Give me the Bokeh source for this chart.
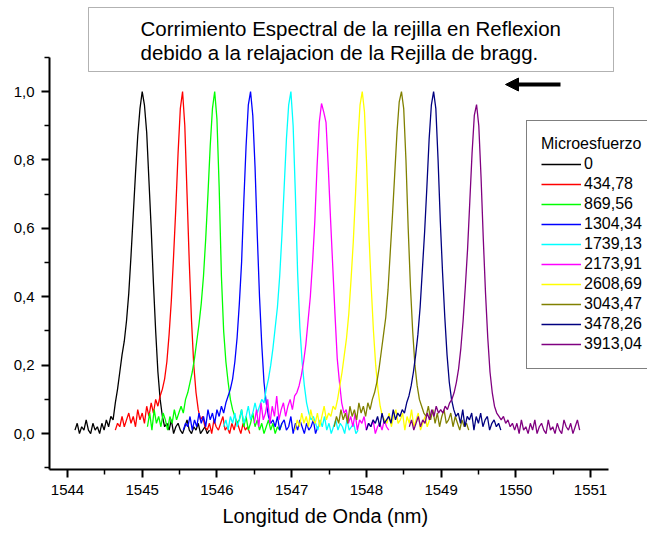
from bokeh.plotting import figure
from bokeh.models import (Range1d, FixedTicker, CustomJSTickFormatter, Legend, LegendItem,
                          BoxAnnotation, Label, Arrow, NormalHead, Title)
from bokeh.embed import file_html
from bokeh.resources import INLINE

# ---------------- data ----------------
labels = ["0", "434,78", "869,56", "1304,34", "1739,13", "2173,91",
          "2608,69", "3043,47", "3478,26", "3913,04"]
colors = ["#000000", "#FF0000", "#00FF00", "#0000FF", "#00FFFF", "#FF00FF",
          "#FFFF00", "#808000", "#000080", "#800080"]
# peak wavelength of each spectrum (nm)
centers = [1545.00, 1545.54, 1545.97, 1546.45, 1546.99, 1547.40,
           1547.945, 1548.47, 1548.90, 1549.475]
# sampling offsets around each peak (nm)
offsets = [-0.90, -0.87, -0.84, -0.81, -0.78, -0.75, -0.72, -0.69, -0.66, -0.63,
           -0.60, -0.57, -0.54, -0.51, -0.48, -0.45, -0.42, -0.39, -0.36, -0.33,
           -0.30, -0.27, -0.24, -0.21, -0.18, -0.15, -0.12, -0.09, -0.06, -0.03,
           0.00, 0.03, 0.06, 0.09, 0.12, 0.15, 0.18, 0.21, 0.24, 0.27,
           0.30, 0.33, 0.36, 0.39, 0.42, 0.45, 0.48, 0.51, 0.54, 0.57,
           0.60, 0.63, 0.66, 0.69, 0.72, 0.75, 0.78, 0.81, 0.84, 0.87,
           0.90, 0.93, 0.96, 0.99, 1.02, 1.05, 1.08, 1.11, 1.14, 1.17,
           1.20, 1.23, 1.26, 1.29, 1.32, 1.35, 1.38]

s0 = [0.01, 0.03, 0.00, 0.02, 0.01, 0.04, 0.01, 0.00, 0.03, 0.01, 0.02, 0.00, 0.03, 0.01, 0.04,
      0.02, 0.05, 0.04, 0.09, 0.13, 0.18, 0.23, 0.27, 0.33, 0.41, 0.52, 0.64, 0.76, 0.87, 0.95,
      1.00, 0.96, 0.88, 0.74, 0.60, 0.44, 0.30, 0.18, 0.10, 0.05, 0.02,
      0.03, 0.01, 0.04, 0.00, 0.02, 0.03, 0.01, 0.00, 0.02, 0.04, 0.01, 0.00, 0.02, 0.01, 0.03,
      0.00, 0.01, 0.02, 0.00, 0.01]
s1 = [0.01, 0.03, 0.02, 0.05, 0.02, 0.04, 0.06, 0.03, 0.05, 0.02, 0.07, 0.04, 0.06, 0.03, 0.08,
      0.05, 0.09, 0.06, 0.10, 0.08, 0.11, 0.13, 0.16, 0.21, 0.29, 0.39, 0.52, 0.66, 0.82, 0.95,
      1.00, 0.90, 0.70, 0.50, 0.33, 0.20, 0.12, 0.07, 0.04, 0.05, 0.02,
      0.01, 0.03, 0.00, 0.04, 0.02, 0.01, 0.03, 0.05, 0.01, 0.02, 0.00, 0.03, 0.01, 0.04, 0.02,
      0.00, 0.03, 0.01, 0.02, 0.00]
s2 = [0.02, 0.06, 0.01, 0.07, 0.03, 0.05, 0.02, 0.06, 0.04, 0.01, 0.05, 0.03, 0.07, 0.04, 0.06,
      0.08, 0.06, 0.10, 0.12, 0.15, 0.18, 0.22, 0.27, 0.32, 0.38, 0.46, 0.57, 0.70, 0.84, 0.95,
      1.00, 0.92, 0.72, 0.46, 0.30, 0.21, 0.15, 0.10, 0.07, 0.05, 0.03,
      0.04, 0.07, 0.02, 0.05, 0.01, 0.03, 0.06, 0.02, 0.04, 0.01, 0.03, 0.00, 0.02, 0.04, 0.01,
      0.03, 0.00, 0.02, 0.01, 0.03]
s3 = [0.01, 0.03, 0.02, 0.05, 0.01, 0.04, 0.02, 0.06, 0.03, 0.05, 0.02, 0.07, 0.04, 0.06, 0.03,
      0.07, 0.05, 0.08, 0.06, 0.09, 0.11, 0.13, 0.16, 0.21, 0.28, 0.38, 0.50, 0.68, 0.84, 0.96,
      1.00, 0.93, 0.78, 0.58, 0.40, 0.26, 0.15, 0.09, 0.05, 0.03, 0.04,
      0.02, 0.05, 0.01, 0.03, 0.04, 0.01, 0.02, 0.05, 0.00, 0.03, 0.01, 0.04, 0.02, 0.00, 0.03,
      0.01, 0.02, 0.04, 0.00, 0.02]
s4 = [0.02, 0.04, 0.01, 0.05, 0.03, 0.06, 0.02, 0.04, 0.07, 0.03, 0.05, 0.08, 0.04, 0.06, 0.09,
      0.06, 0.08, 0.10, 0.09, 0.13, 0.16, 0.20, 0.25, 0.31, 0.37, 0.46, 0.58, 0.72, 0.86, 0.96,
      1.00, 0.90, 0.70, 0.47, 0.31, 0.21, 0.14, 0.09, 0.06, 0.04, 0.05,
      0.03, 0.01, 0.04, 0.02, 0.05, 0.01, 0.03, 0.00, 0.02, 0.04, 0.01, 0.03, 0.02, 0.00, 0.04,
      0.01, 0.02, 0.03, 0.00, 0.01]
s5 = [0.03, 0.07, 0.02, 0.09, 0.04, 0.06, 0.10, 0.03, 0.08, 0.05, 0.11, 0.04, 0.07, 0.09, 0.05,
      0.08, 0.10, 0.07, 0.11, 0.12, 0.14, 0.17, 0.21, 0.26, 0.33, 0.40, 0.50, 0.62, 0.78, 0.91,
      0.965, 0.94, 0.91, 0.78, 0.63, 0.49, 0.35, 0.22, 0.15, 0.09, 0.06,
      0.07, 0.03, 0.05, 0.02, 0.06, 0.01, 0.04, 0.03, 0.05, 0.01, 0.03, 0.02, 0.04, 0.00, 0.02,
      0.03, 0.01, 0.04, 0.02, 0.01]
s6 = [0.01, 0.04, 0.02, 0.06, 0.03, 0.05, 0.02, 0.07, 0.04, 0.03, 0.06, 0.02, 0.05, 0.08, 0.04,
      0.06, 0.05, 0.08, 0.07, 0.10, 0.14, 0.18, 0.23, 0.28, 0.35, 0.45, 0.56, 0.70, 0.85, 0.96,
      1.00, 0.94, 0.78, 0.58, 0.43, 0.30, 0.20, 0.13, 0.08, 0.05, 0.04,
      0.03, 0.06, 0.02, 0.05, 0.07, 0.03, 0.04, 0.06, 0.01, 0.05, 0.03, 0.07, 0.02, 0.04, 0.06,
      0.01, 0.03, 0.05, 0.02, 0.04]
s7 = [0.02, 0.05, 0.03, 0.07, 0.04, 0.06, 0.03, 0.08, 0.05, 0.07, 0.04, 0.09, 0.06, 0.08, 0.05,
      0.09, 0.07, 0.10, 0.12, 0.15, 0.19, 0.24, 0.29, 0.34, 0.42, 0.53, 0.64, 0.76, 0.88, 0.97,
      1.00, 0.95, 0.80, 0.60, 0.43, 0.30, 0.20, 0.14, 0.10, 0.08, 0.06,
      0.05, 0.08, 0.04, 0.07, 0.03, 0.06, 0.02, 0.05, 0.07, 0.03, 0.04, 0.06, 0.02, 0.05, 0.03,
      0.01, 0.04, 0.02, 0.03, 0.01]
s8 = [0.01, 0.03, 0.02, 0.04, 0.03, 0.05, 0.02, 0.06, 0.03, 0.04, 0.05, 0.03, 0.07, 0.04, 0.06,
      0.05, 0.07, 0.06, 0.09, 0.11, 0.14, 0.18, 0.23, 0.29, 0.37, 0.48, 0.59, 0.72, 0.86, 0.96,
      1.00, 0.95, 0.80, 0.62, 0.47, 0.34, 0.23, 0.15, 0.10, 0.07, 0.05,
      0.06, 0.03, 0.07, 0.02, 0.05, 0.04, 0.06, 0.01, 0.05, 0.03, 0.06, 0.02, 0.04, 0.05, 0.01,
      0.03, 0.04, 0.02, 0.03, 0.01]
s9 = [0.02, 0.04, 0.01, 0.03, 0.05, 0.02, 0.04, 0.03, 0.06, 0.04, 0.07, 0.05, 0.08, 0.06, 0.07,
      0.06, 0.08, 0.07, 0.09, 0.10, 0.12, 0.15, 0.19, 0.25, 0.33, 0.43, 0.54, 0.68, 0.82, 0.93,
      0.962, 0.90, 0.75, 0.57, 0.41, 0.28, 0.18, 0.12, 0.08, 0.06, 0.05,
      0.04, 0.05, 0.03, 0.04, 0.02, 0.03, 0.01, 0.03, 0.00, 0.04, 0.01, 0.02, 0.00, 0.03, 0.01,
      0.04, 0.00, 0.02, 0.03, 0.01, 0.00, 0.04, 0.01, 0.02, 0.00, 0.03, 0.01, 0.00, 0.04, 0.02,
      0.01, 0.03, 0.00, 0.02, 0.04, 0.01]
series = [s0, s1, s2, s3, s4, s5, s6, s7, s8, s9]

x_ticks = [1544, 1545, 1546, 1547, 1548, 1549, 1550, 1551]
x_minor = [1544.5, 1545.5, 1546.5, 1547.5, 1548.5, 1549.5, 1550.5]
y_ticks = [0.0, 0.2, 0.4, 0.6, 0.8, 1.0]
y_minor = [-0.1, 0.1, 0.3, 0.5, 0.7, 0.9, 1.1]
x_axis_span = (1543.759, 1551.241)
y_axis_span = (-0.105, 1.1)

title_lines = ["Corrimiento Espectral de la rejilla en Reflexion",
               "debido a la relajacion de la Rejilla de bragg."]
x_title = "Longitud de Onda (nm)"
legend_title = "Microesfuerzo"
FONT = "Liberation Sans"

# ---------------- figure ----------------
# frame covers the whole canvas except the left/bottom axis space,
# axis lines are limited with "bounds" (Origin-like open frame)
p = figure(width=647, height=537, output_backend="svg", toolbar_location=None,
           x_range=Range1d(1543.759, 1551.763), y_range=Range1d(-0.105, 1.2661),
           min_border_left=49, min_border_right=0, min_border_top=0, min_border_bottom=68)
p.outline_line_color = None
p.grid.visible = False
p.background_fill_color = "white"
p.border_fill_color = "white"

renderers = []
for yv, c, cen in zip(series, colors, centers):
    xs = [cen + o for o in offsets[:len(yv)]]
    r = p.line(xs, yv, line_color=c, line_width=1.3)
    renderers.append(r)

for ax in (p.xaxis[0], p.yaxis[0]):
    ax.axis_line_width = 2
    ax.axis_line_color = "black"
    ax.major_tick_line_width = 2
    ax.minor_tick_line_width = 1.5
    ax.major_tick_line_color = "black"
    ax.minor_tick_line_color = "black"
    ax.major_tick_out = 8
    ax.major_tick_in = 0
    ax.minor_tick_out = 5
    ax.minor_tick_in = 0
    ax.major_label_text_font = FONT
    ax.major_label_text_font_size = "15px"
    ax.major_label_text_color = "black"
    ax.major_label_standoff = 7

p.xaxis.bounds = x_axis_span
p.yaxis.bounds = y_axis_span
p.xaxis.ticker = FixedTicker(ticks=x_ticks, minor_ticks=x_minor)
p.yaxis.ticker = FixedTicker(ticks=y_ticks, minor_ticks=y_minor)
p.xaxis.formatter = CustomJSTickFormatter(code="return tick.toFixed(0);")
p.yaxis.formatter = CustomJSTickFormatter(code="return tick.toFixed(1).replace('.', ',');")

# x axis title, placed under the (bounded) axis
p.add_layout(Title(text=x_title, align="left", offset=173, text_font=FONT,
                   text_font_size="20px", text_font_style="normal", text_color="black",
                   standoff=11), "below")

# legend
items = [LegendItem(label=lab, renderers=[r]) for lab, r in zip(labels, renderers)]
legend = Legend(items=items, location=(477, 100), title=legend_title,
                title_text_font=FONT, title_text_font_size="16px", title_text_font_style="normal",
                title_text_color="black", title_standoff=1,
                label_text_font=FONT, label_text_font_size="16px", label_text_color="black",
                glyph_width=40, glyph_height=20, label_height=20, spacing=0,
                label_standoff=3, padding=14, margin=0,
                border_line_color="black", border_line_width=1,
                background_fill_color="white", background_fill_alpha=1)
p.add_layout(legend)

# title box (screen units: from frame left / frame bottom)
box = BoxAnnotation(left=39, right=564, top=462, bottom=398,
                    left_units="screen", right_units="screen",
                    top_units="screen", bottom_units="screen",
                    fill_color="white", fill_alpha=1, line_color="black", line_width=1)
p.add_layout(box)
for i, t in enumerate(title_lines):
    p.add_layout(Label(x=91, y=441 - 24 * i, x_units="screen", y_units="screen", text=t,
                       text_font=FONT, text_font_size="20.5px", text_color="black",
                       text_align="left", text_baseline="middle"))

# arrow
p.add_layout(Arrow(end=NormalHead(size=13, fill_color="black", line_color="black"),
                   x_start=511, y_start=385, x_end=456, y_end=385,
                   start_units="screen", end_units="screen",
                   line_width=4, line_color="black"))

open("out.html", "w").write(file_html(p, INLINE))
